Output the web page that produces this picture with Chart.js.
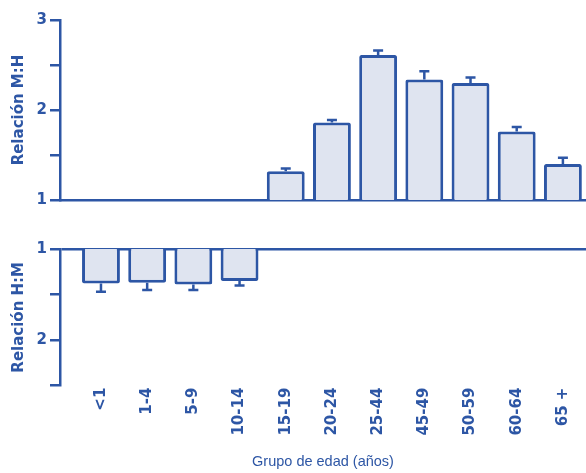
<!DOCTYPE html>
<html>
<head>
<meta charset="utf-8">
<script src="https://cdn.jsdelivr.net/npm/chart.js@4"></script>
<style>
html, body { margin: 0; padding: 0; background: #fff; }
.panel { position: relative; width: 586px; }
</style>
</head>
<body>
<div class="panel" style="height:212px"><canvas id="chartMH"></canvas></div>
<div class="panel" style="height:261px"><canvas id="chartHM"></canvas></div>
<script>
// age groups on the x axis
const ageGroups = ['<1', '1-4', '5-9', '10-14', '15-19', '20-24', '25-44', '45-49', '50-59', '60-64', '65 +'];

// women:men ratio (top panel) and its error
const ratioMH = [null, null, null, null, 1.32, 1.86, 2.61, 2.34, 2.30, 1.76, 1.40];
const errMH   = [null, null, null, null, 0.03, 0.03, 0.05, 0.09, 0.06, 0.05, 0.07];

// men:women ratio (bottom panel) and its error
const ratioHM = [1.38, 1.37, 1.39, 1.35, null, null, null, null, null, null, null];
const errHM   = [0.09, 0.08, 0.06, 0.05, null, null, null, null, null, null, null];

const topTicks = [1, 1.5, 2, 2.5, 3];
const bottomTicks = [1, 1.5, 2, 2.5];

const BLUE = '#2d56a5';
const FILL = '#dfe4f0';
const tickFont = { family: 'DejaVu Sans', size: 15, weight: 'bold' };

function points(values, errs) {
  const out = [];
  values.forEach((v, i) => {
    if (v !== null) out.push({ x: i, y: v, err: errs[i] });
  });
  return out;
}

// draws the error whiskers above / below each bar
const errorBars = {
  id: 'errorBars',
  afterDatasetsDraw(chart) {
    const ctx = chart.ctx;
    const yScale = chart.scales.y;
    chart.data.datasets.forEach((ds, di) => {
      const meta = chart.getDatasetMeta(di);
      meta.data.forEach((bar, i) => {
        const p = ds.data[i];
        const yEnd = yScale.getPixelForValue(p.y + p.err);
        ctx.save();
        ctx.strokeStyle = BLUE;
        ctx.lineWidth = 2.5;
        ctx.beginPath();
        ctx.moveTo(bar.x, bar.y);
        ctx.lineTo(bar.x, yEnd);
        ctx.moveTo(bar.x - 5, yEnd);
        ctx.lineTo(bar.x + 5, yEnd);
        ctx.stroke();
        ctx.restore();
      });
    });
  }
};

function xScale(showLabels) {
  return {
    type: 'linear',
    offset: false,
    min: -0.887,
    max: 10.5,
    afterBuildTicks: s => { s.ticks = ageGroups.map((_, i) => ({ value: i })); },
    grid: { display: false, drawTicks: false, offset: false },
    border: { display: !showLabels, color: BLUE, width: 2.5 },
    ticks: {
      display: showLabels,
      autoSkip: false,
      minRotation: 90,
      maxRotation: 90,
      padding: 2,
      color: BLUE,
      font: tickFont,
      callback: v => ageGroups[v]
    },
    title: {
      display: showLabels,
      text: 'Grupo de edad (años)',
      color: BLUE,
      font: { family: 'Liberation Sans', size: 14.5 },
      padding: { top: 16, bottom: 0 }
    }
  };
}

function yScale(title, max, reverse, tickValues, baselineGrid) {
  return {
    min: 1,
    max: max,
    reverse: reverse,
    afterFit: s => { s.width = 60; },
    afterBuildTicks: s => { s.ticks = tickValues.map(v => ({ value: v })); },
    border: { color: BLUE, width: 2.5 },
    grid: {
      drawOnChartArea: baselineGrid,
      color: c => (c.tick && c.tick.value === 1 ? BLUE : 'rgba(0,0,0,0)'),
      lineWidth: 2.5,
      tickColor: BLUE,
      tickWidth: 2.5,
      tickLength: 10
    },
    ticks: {
      color: BLUE,
      font: tickFont,
      padding: 3,
      callback: v => (Number.isInteger(v) ? v : '')
    },
    title: {
      display: true,
      text: title,
      color: BLUE,
      font: tickFont,
      padding: { top: 10, bottom: 0 }
    }
  };
}

const barStyle = {
  backgroundColor: FILL,
  borderColor: BLUE,
  borderWidth: 3,
  borderRadius: 2,
  categoryPercentage: 1,
  barPercentage: 0.82
};

new Chart(document.getElementById('chartMH'), {
  type: 'bar',
  data: { datasets: [Object.assign({ data: points(ratioMH, errMH) }, barStyle)] },
  options: {
    responsive: true,
    maintainAspectRatio: false,
    animation: false,
    layout: { padding: { top: 20, bottom: 10, left: 0, right: 0 } },
    plugins: { legend: { display: false }, tooltip: { enabled: false } },
    scales: { x: xScale(false), y: yScale('Relación M:H', 3, false, topTicks, false) }
  },
  plugins: [errorBars]
});

new Chart(document.getElementById('chartHM'), {
  type: 'bar',
  data: { datasets: [Object.assign({ data: points(ratioHM, errHM) }, barStyle)] },
  options: {
    responsive: true,
    maintainAspectRatio: false,
    animation: false,
    layout: { padding: { top: 37, bottom: 2, left: 0, right: 0 } },
    plugins: { legend: { display: false }, tooltip: { enabled: false } },
    scales: { x: xScale(true), y: yScale('Relación H:M', 2.5, true, bottomTicks, true) }
  },
  plugins: [errorBars]
});
</script>
</body>
</html>
